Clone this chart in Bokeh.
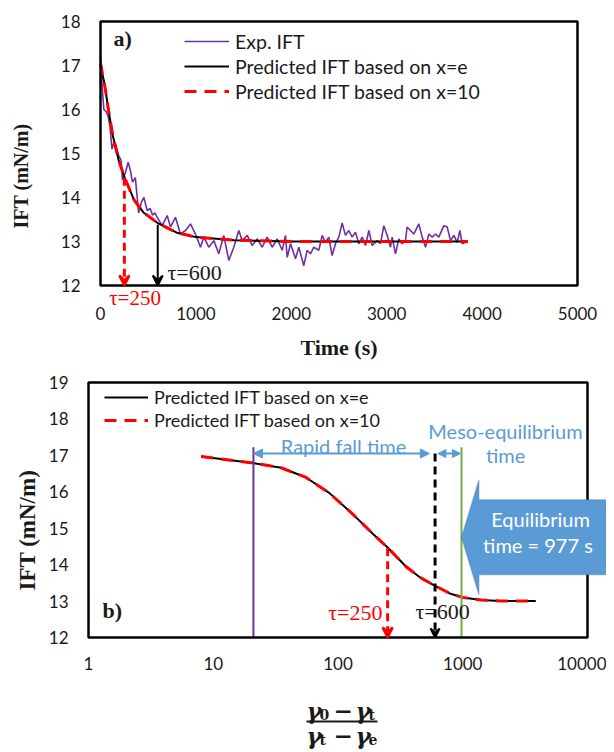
import math
from bokeh.plotting import figure
from bokeh.models import (Legend, LegendItem, Label, Arrow, VeeHead, NormalHead,
                          PolyAnnotation, FixedTicker, BasicTickFormatter)
from bokeh.embed import file_html
from bokeh.resources import INLINE

# ---------------- data ----------------
exp_time = [0, 15, 35, 60, 80, 100, 120, 140, 160, 190,
            215, 230, 260, 290, 315, 335, 365, 400, 430, 455,
            490, 520, 545, 570, 595, 646, 699, 734, 786, 838,
            891, 943, 996, 1048, 1083, 1135, 1188, 1240, 1292, 1345,
            1397, 1450, 1485, 1538, 1590, 1643, 1695, 1747, 1800, 1852,
            1905, 1939, 1957, 1992, 2044, 2079, 2131, 2166, 2201, 2236,
            2288, 2324, 2358, 2393, 2428, 2463, 2498, 2533, 2568, 2603,
            2638, 2673, 2708, 2743, 2778, 2813, 2848, 2900, 2935, 2970,
            3005, 3040, 3057, 3092, 3127, 3162, 3197, 3214, 3249, 3284,
            3337, 3372, 3407, 3442, 3477, 3512, 3546, 3599, 3634, 3669,
            3704, 3739, 3767, 3791, 3826, 3845]
exp_ift = [17.2, 16.6, 16.0, 15.95, 15.85, 15.6, 15.1, 15.25, 15.2, 14.95,
           14.85, 14.4, 14.55, 14.8, 14.6, 14.35, 14.45, 13.65, 13.9, 14.0,
           13.7, 13.75, 13.6, 13.65, 13.55, 13.36, 13.59, 13.33, 13.55, 13.17,
           13.25, 13.4, 13.17, 12.87, 13.1, 12.87, 13.02, 12.72, 13.14, 12.57,
           12.87, 13.25, 13.02, 13.14, 12.91, 13.06, 12.87, 13.1, 12.87, 13.06,
           12.8, 13.14, 12.64, 12.95, 12.61, 12.87, 12.45, 12.8, 12.72, 12.87,
           12.8, 13.14, 12.98, 13.1, 12.68, 12.95, 13.1, 13.42, 13.14, 13.25,
           13.1, 13.21, 12.95, 13.1, 12.91, 13.25, 12.91, 13.02, 12.95, 13.36,
           13.14, 12.87, 13.1, 12.72, 13.06, 12.95, 13.02, 13.33, 13.25, 13.17,
           13.4, 13.1, 12.87, 13.17, 13.1, 13.17, 13.1, 13.36, 13.33, 13.02,
           13.14, 12.98, 13.25, 12.95, 12.98, 12.98]

pred_time = [0, 8, 20, 35, 55, 85, 130, 190, 250, 350, 450, 600, 800, 1000,
             1400, 2000, 3000, 3850]
pred_ift_e = [17.05, 16.97, 16.8, 16.66, 16.4, 15.97, 15.4, 14.85, 14.47, 13.95,
              13.66, 13.42, 13.2, 13.1, 13.03, 13.0, 13.0, 13.0]
pred_ift_10 = [17.05, 16.97, 16.8, 16.66, 16.4, 15.97, 15.4, 14.85, 14.47, 13.95,
               13.66, 13.42, 13.2, 13.1, 13.03, 13.0, 13.0, 13.0]

tau_values = [250, 600]
tau_ift = [14.45, 13.38]
rapid_start = 21
rapid_end = 540
meso_start = 632
eq_time = 977
eq_line_top = 17.22
arrow_level = 17.05

x_ticks_a = [0, 1000, 2000, 3000, 4000, 5000]
y_ticks_a = [12, 13, 14, 15, 16, 17, 18]
x_ticks_b = [1, 10, 100, 1000, 10000]
y_ticks_b = [12, 13, 14, 15, 16, 17, 18, 19]

series_labels = ["Exp. IFT", "Predicted IFT based on x=e", "Predicted IFT based on x=10"]

# ---------------- styles ----------------
SANS = "Lato"
SERIF = "Liberation Serif"
MATH = "DejaVu Serif"
PURPLE = "#7030A0"
RED = "#FF0000"
BLUE = "#5B9BD5"
GREEN = "#70AD47"
TXT = "#1a1a1a"
W = 606
NB = "\u00a0"   # non-breaking space, used to nudge the rotated label downwards


def style_axes(p, tick_size, x_standoff, y_standoff):
    p.grid.visible = False
    p.outline_line_color = None
    p.background_fill_color = "white"
    p.border_fill_color = "white"
    for ax in list(p.xaxis) + list(p.yaxis):
        ax.axis_line_color = None
        ax.major_tick_line_color = None
        ax.minor_tick_line_color = None
        ax.major_tick_out = 0
        ax.major_tick_in = 0
        ax.minor_tick_out = 0
        ax.minor_tick_in = 0
        ax.major_label_text_font = SANS
        ax.major_label_text_font_size = tick_size
        ax.major_label_text_color = TXT
        ax.axis_label_text_font = SERIF
        ax.axis_label_text_font_style = "bold"
        ax.axis_label_text_color = TXT
    p.xaxis.major_label_standoff = x_standoff
    p.yaxis.major_label_standoff = y_standoff


# ================= chart a =================
a_px_x = 0.0954   # px per second
a_px_y = 44.0     # px per mN/m
p1 = figure(width=W, height=365,
            x_range=(x_ticks_a[0] - 2 / a_px_x, x_ticks_a[-1] + 2 / a_px_x),
            y_range=(y_ticks_a[0] - 22 / a_px_y, y_ticks_a[-1] + 2 / a_px_y),
            output_backend="svg", toolbar_location=None,
            min_border_left=98, min_border_right=27, min_border_top=19,
            min_border_bottom=58)
style_axes(p1, "17px", -1, 18)
p1.xaxis.ticker = FixedTicker(ticks=x_ticks_a)
p1.yaxis.ticker = FixedTicker(ticks=y_ticks_a)
p1.xaxis.axis_label = "Time (s)"
p1.xaxis.axis_label_text_font_size = "22px"
p1.xaxis.axis_label_standoff = 12
p1.yaxis.axis_label = "IFT (mN/m)" + NB * 5
p1.yaxis.axis_label_text_font_size = "20px"
p1.yaxis.axis_label_standoff = 26

r_exp = p1.line(exp_time, exp_ift, line_color=PURPLE, line_width=1.6)
r_e = p1.line(pred_time, pred_ift_e, line_color="black", line_width=2)
r_10 = p1.line(pred_time, pred_ift_10, line_color=RED, line_width=3, line_dash="12 8")
p1.quad(left=[x_ticks_a[0]], right=[x_ticks_a[-1]], bottom=[y_ticks_a[0]],
        top=[y_ticks_a[-1]], fill_color=None, line_color="black", line_width=2.5)

leg1 = Legend(items=[LegendItem(label=series_labels[0], renderers=[r_exp]),
                     LegendItem(label=series_labels[1], renderers=[r_e]),
                     LegendItem(label=series_labels[2], renderers=[r_10])],
              location=(86, 204), label_text_font=SANS, label_text_font_size="19.5px",
              label_text_color=TXT, glyph_width=45, glyph_height=24, label_height=24,
              spacing=1, padding=0, margin=0, border_line_alpha=0,
              background_fill_alpha=0, label_standoff=6)
p1.add_layout(leg1)

p1.add_layout(Arrow(end=VeeHead(size=10, line_color=RED, line_width=2.5),
                    x_start=tau_values[0], y_start=tau_ift[0],
                    x_end=tau_values[0], y_end=y_ticks_a[0],
                    line_color=RED, line_width=3, line_dash="8 5"))
p1.add_layout(Arrow(end=VeeHead(size=10, line_color="black", line_width=2),
                    x_start=tau_values[1], y_start=tau_ift[1],
                    x_end=tau_values[1], y_end=y_ticks_a[0],
                    line_color="black", line_width=2))

p1.add_layout(Label(x=702, y=12.3, text="τ=600", text_font=SERIF,
                    text_font_size="22px", text_color=TXT,
                    text_align="left", text_baseline="middle"))
p1.add_layout(Label(x=362, y=11.72, text="τ=250",
                    text_font=SERIF, text_font_size="21px", text_color=RED,
                    text_align="center", text_baseline="middle"))
p1.add_layout(Label(x=136, y=17.61, text="a)", text_font=SERIF, text_font_style="bold",
                    text_font_size="22px", text_color=TXT,
                    text_align="left", text_baseline="middle"))

# ================= chart b =================
b_px = 124.75    # px per decade
b_py = 36.43     # px per mN/m
p2 = figure(width=W, height=324, x_axis_type="log",
            x_range=(10 ** (-2 / b_px), 10 ** (518 / b_px)),
            y_range=(y_ticks_b[0] - 2 / b_py, y_ticks_b[-1] + 2 / b_py),
            output_backend="svg", toolbar_location=None,
            min_border_left=86, min_border_right=0, min_border_top=15,
            min_border_bottom=50)
style_axes(p2, "17px", 17, 18)
p2.xaxis.ticker = FixedTicker(ticks=x_ticks_b)
p2.xaxis.formatter = BasicTickFormatter(use_scientific=False)
p2.yaxis.ticker = FixedTicker(ticks=y_ticks_b)
p2.yaxis.axis_label = "IFT (mN/m)" + NB * 7
p2.yaxis.axis_label_text_font_size = "23px"
p2.yaxis.axis_label_standoff = 6

q_e = p2.line(pred_time[1:], pred_ift_e[1:], line_color="black", line_width=2)
q_10 = p2.line(pred_time[1:], pred_ift_10[1:], line_color=RED, line_width=3,
               line_dash="12 8")

p2.segment(x0=[rapid_start], y0=[y_ticks_b[0]], x1=[rapid_start], y1=[eq_line_top],
           line_color=PURPLE, line_width=2)
p2.segment(x0=[eq_time], y0=[y_ticks_b[0]], x1=[eq_time], y1=[eq_line_top],
           line_color=GREEN, line_width=2)
p2.quad(left=[x_ticks_b[0]], right=[x_ticks_b[-1]], bottom=[y_ticks_b[0]],
        top=[y_ticks_b[-1]], fill_color=None, line_color="black", line_width=2.5)

leg2 = Legend(items=[LegendItem(label=series_labels[1], renderers=[q_e]),
                     LegendItem(label=series_labels[2], renderers=[q_10])],
              location=(18, 208), label_text_font=SANS, label_text_font_size="18px",
              label_text_color=TXT, glyph_width=44, glyph_height=22, label_height=22,
              spacing=1, padding=0, margin=0, border_line_alpha=0,
              background_fill_alpha=0, label_standoff=6)
p2.add_layout(leg2)

p2.add_layout(Arrow(end=VeeHead(size=10, line_color=RED, line_width=2.5),
                    x_start=tau_values[0], y_start=tau_ift[0],
                    x_end=tau_values[0], y_end=y_ticks_b[0],
                    line_color=RED, line_width=3, line_dash="8 5"))
p2.add_layout(Arrow(end=VeeHead(size=9, line_color="black", line_width=2),
                    x_start=tau_values[1], y_start=arrow_level,
                    x_end=tau_values[1], y_end=y_ticks_b[0],
                    line_color="black", line_width=3, line_dash="8 5"))

p2.add_layout(Arrow(start=NormalHead(size=9, fill_color=BLUE, line_color=BLUE),
                    end=NormalHead(size=9, fill_color=BLUE, line_color=BLUE),
                    x_start=rapid_start, y_start=arrow_level,
                    x_end=rapid_end, y_end=arrow_level,
                    line_color=BLUE, line_width=2))
p2.add_layout(Arrow(start=NormalHead(size=8, fill_color=BLUE, line_color=BLUE),
                    end=NormalHead(size=8, fill_color=BLUE, line_color=BLUE),
                    x_start=meso_start, y_start=arrow_level,
                    x_end=eq_time * 0.98, y_end=arrow_level,
                    line_color=BLUE, line_width=2))

# block arrow pointing at the equilibrium time
mid, head_half, body_half = 14.75, 1.58, 1.03
head_base = eq_time * 1.38
body_end = 10 ** (519 / b_px)
p2.add_layout(PolyAnnotation(
    xs=[eq_time, head_base, head_base, body_end, body_end, head_base, head_base],
    ys=[mid, mid + head_half, mid + body_half, mid + body_half,
        mid - body_half, mid - body_half, mid - head_half],
    fill_color=BLUE, fill_alpha=1, line_color="#41719C", line_width=1.5))

p2.add_layout(Label(x=4200, y=15.24, text="Equilibrium", text_font=SANS,
                    text_font_size="20px", text_color="white",
                    text_align="center", text_baseline="middle"))
p2.add_layout(Label(x=4200, y=14.55, text="time  = 977 s", text_font=SANS,
                    text_font_size="20px", text_color="white",
                    text_align="center", text_baseline="middle"))

p2.add_layout(Label(x=110.7, y=17.27, text="Rapid fall time", text_font=SANS,
                    text_font_size="20px", text_color=BLUE,
                    text_align="center", text_baseline="middle"))
p2.add_layout(Label(x=2203, y=17.68, text="Meso-equilibrium", text_font=SANS,
                    text_font_size="20px", text_color=BLUE,
                    text_align="center", text_baseline="middle"))
p2.add_layout(Label(x=2203, y=17.0, text="time", text_font=SANS,
                    text_font_size="20px", text_color=BLUE,
                    text_align="center", text_baseline="middle"))

p2.add_layout(Label(x=227, y=12.69, text="τ=250", text_font=SERIF,
                    text_font_size="22px", text_color=RED,
                    text_align="right", text_baseline="middle"))
p2.add_layout(Label(x=418, y=12.71, text="τ=600", text_font=SERIF,
                    text_font_size="22px", text_color=TXT,
                    text_align="left", text_baseline="middle"))
p2.add_layout(Label(x=1.295, y=12.74, text="b)", text_font=SERIF, text_font_style="bold",
                    text_font_size="22px", text_color=TXT,
                    text_align="left", text_baseline="middle"))

# ================= x-axis title of chart b (fraction) =================
H3 = 62
p3 = figure(width=W, height=H3, x_range=(0, W), y_range=(H3, 0),
            output_backend="svg", toolbar_location=None,
            x_axis_location=None, y_axis_location=None,
            min_border_left=0, min_border_right=0, min_border_top=0,
            min_border_bottom=0)
p3.grid.visible = False
p3.outline_line_color = None


def frac_row(x0, base, sub1, sub2):
    big = dict(text_font=MATH, text_font_style="bold italic", text_font_size="23px",
               text_color=TXT, text_align="left", text_baseline="alphabetic")
    small = dict(text_font=MATH, text_font_style="bold", text_font_size="14px",
                 text_color=TXT, text_align="left", text_baseline="alphabetic")
    p3.add_layout(Label(x=x0, y=base, text="γ", **big))
    p3.add_layout(Label(x=x0 + 13, y=base + 4, text=sub1, **small))
    p3.add_layout(Label(x=x0 + 27, y=base, text="−", **dict(big, text_font_style="bold")))
    p3.add_layout(Label(x=x0 + 49, y=base, text="γ", **big))
    p3.add_layout(Label(x=x0 + 62, y=base + 4, text=sub2, **small))


frac_row(306, 21, "0", "t")
p3.segment(x0=[306], y0=[32], x1=[377], y1=[32], line_color=TXT, line_width=2)
frac_row(306, 46, "t", "e")

open("out.html", "w").write(file_html([p1, p2, p3], INLINE))
